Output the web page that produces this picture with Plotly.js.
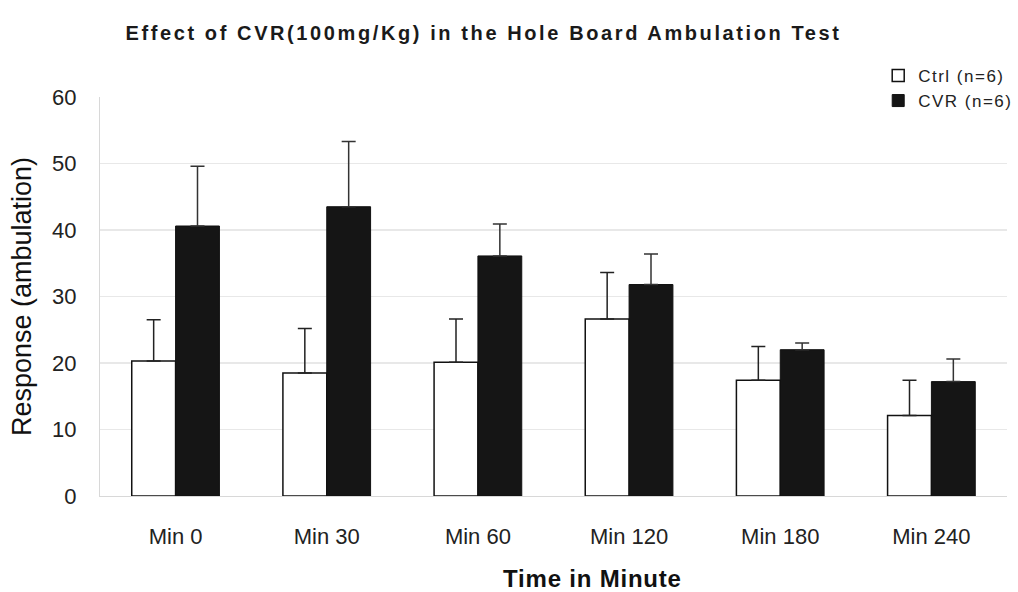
<!DOCTYPE html>
<html><head><meta charset="utf-8">
<script src="https://cdn.plot.ly/plotly-3.0.1.min.js"></script>
<style>html,body{margin:0;padding:0;background:#fff;}#chart{width:1018px;height:592px;}
.gtitle{letter-spacing:2.6px;}
.legendtext{letter-spacing:1.5px;}
.annotation-text{letter-spacing:0.8px;}
</style>
</head><body><div id="chart"></div>
<script>
const categories = ["Min 0", "Min 30", "Min 60", "Min 120", "Min 180", "Min 240"];
const ctrlMean = [20.3, 18.5, 20.1, 26.6, 17.4, 12.1];
const ctrlErr  = [6.2, 6.7, 6.5, 7.0, 5.1, 5.3];
const cvrMean  = [40.6, 43.5, 36.1, 31.8, 22.0, 17.2];
const cvrErr   = [9.0, 9.8, 4.8, 4.6, 1.0, 3.4];
const yTicks = [0, 10, 20, 30, 40, 50, 60];

const font = "Liberation Sans, Arial, sans-serif";
const traces = [
  {type:'bar', name:'Ctrl (n=6)', x:categories, y:ctrlMean,
   marker:{color:'#ffffff', line:{color:'#111', width:1.5}},
   error_y:{type:'data', symmetric:false, array:ctrlErr, arrayminus:ctrlMean.map(()=>0), color:'#222', thickness:1.5, width:7}},
  {type:'bar', name:'CVR (n=6)', x:categories, y:cvrMean,
   marker:{color:'#151515', line:{color:'#111', width:1}},
   error_y:{type:'data', symmetric:false, array:cvrErr, arrayminus:cvrMean.map(()=>0), color:'#333', thickness:1.5, width:7}}
];
const layout = {
  width:1018, height:592,
  margin:{l:100, r:11, t:97, b:96, autoexpand:false},
  paper_bgcolor:'#fff', plot_bgcolor:'#fff',
  barmode:'group', bargap:0.42, bargroupgap:0,
  font:{family:font, color:'#222'},
  title:{text:'<b>Effect of CVR(100mg/Kg) in the Hole Board Ambulation Test</b>', x:0.475, xanchor:'center', y:0.944, yanchor:'middle', font:{size:20, color:'#1a1a1a', family:font}},
  xaxis:{range:[-0.5,5.5], showgrid:false, showline:true, linecolor:'#d8d8d8', linewidth:1,
    ticks:'outside', ticklen:21, tickcolor:'rgba(0,0,0,0)', tickfont:{size:22, color:'#222'}},
  yaxis:{range:[0,60], tickvals:yTicks, showgrid:true, gridcolor:'#e8e8e8', gridwidth:1.5,
    showline:true, linecolor:'#d8d8d8', linewidth:1, zeroline:false,
    ticks:'outside', ticklen:18, tickcolor:'rgba(0,0,0,0)', tickfont:{size:22, color:'#222'},
    title:{text:'Response (ambulation)', font:{size:27, color:'#111'}, standoff:12}},
  annotations:[{text:'<b>Time in Minute</b>', xref:'paper', yref:'paper', x:0.5435, y:-0.208, xanchor:'center', yanchor:'middle', showarrow:false, font:{size:24, color:'#111', family:font}}],
  legend:{x:0.858, xanchor:'left', y:1.098, yanchor:'top', font:{size:17, color:'#222'},
    bgcolor:'rgba(0,0,0,0)', itemwidth:30},
  showlegend:true
};
Plotly.newPlot('chart', traces, layout, {displayModeBar:false, staticPlot:true});
</script></body></html>
